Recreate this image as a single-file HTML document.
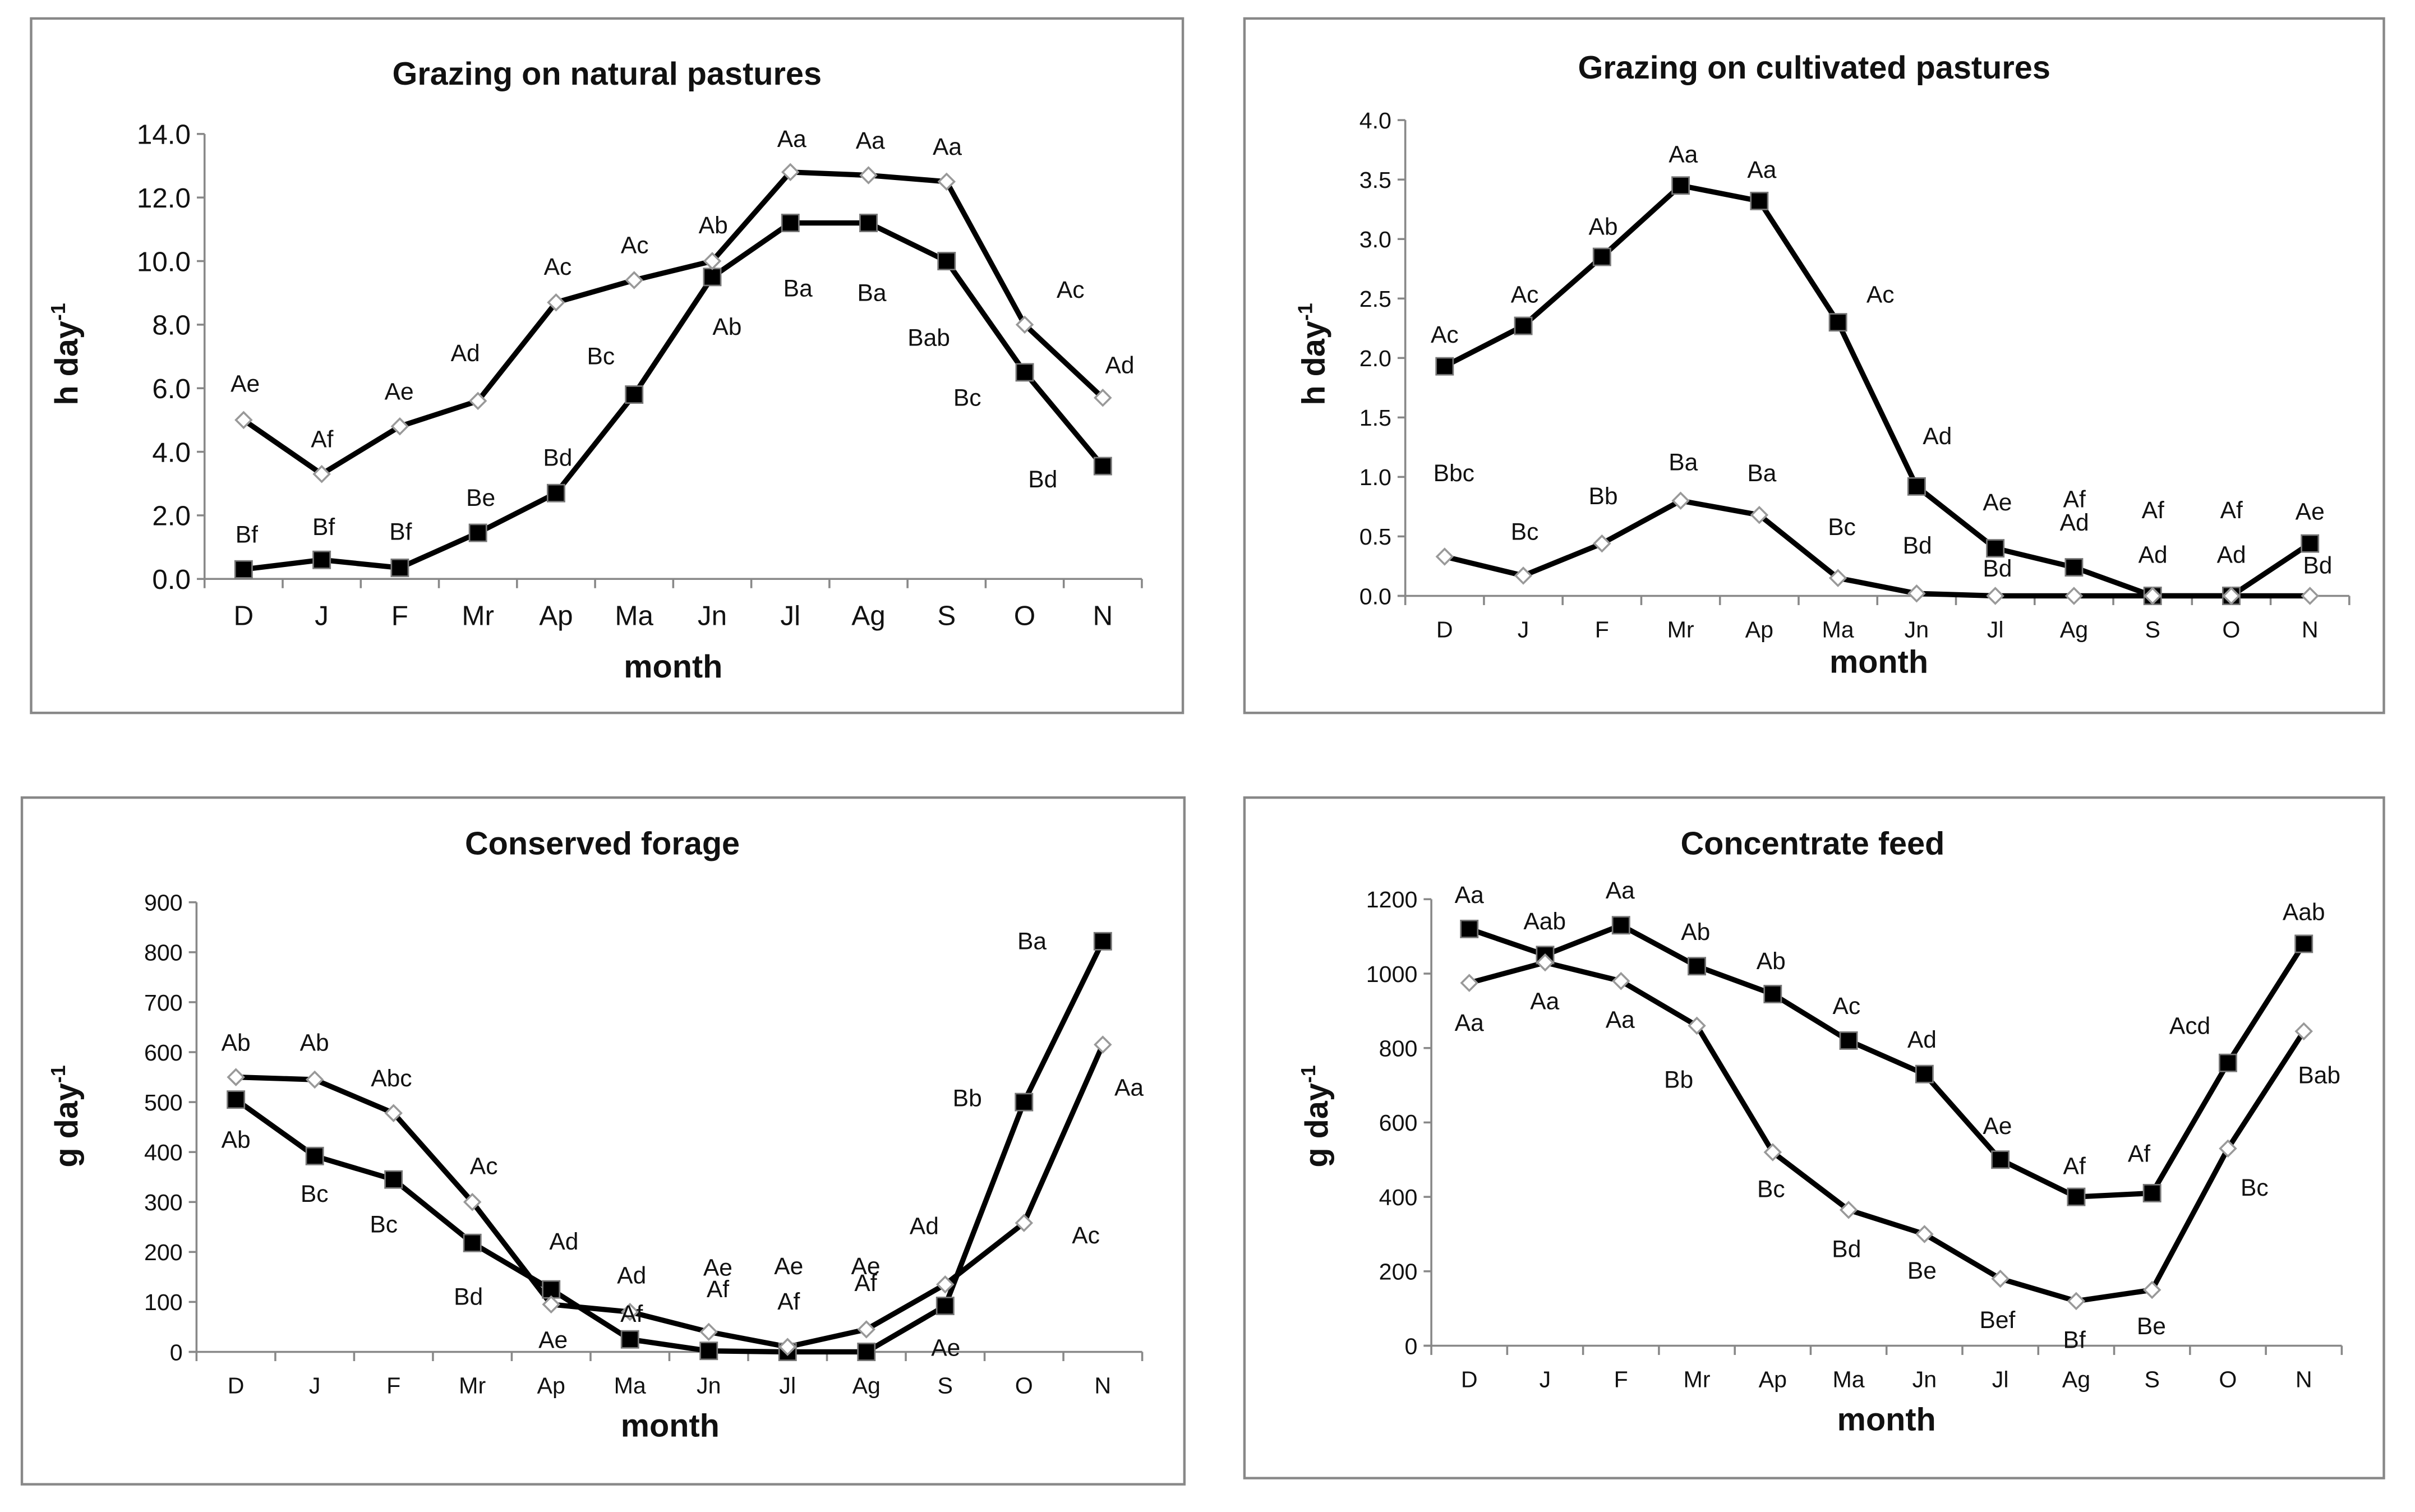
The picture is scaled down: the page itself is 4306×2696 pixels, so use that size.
<!DOCTYPE html>
<html><head><meta charset="utf-8"><style>
html,body{margin:0;padding:0;background:#fff}
svg{display:block}
text{font-family:"Liberation Sans",Arial,sans-serif;fill:#111}
</style></head><body>
<svg id="s" width="4306" height="2696" viewBox="0 0 1568 982" xmlns="http://www.w3.org/2000/svg"></svg>
<script>
const months=["D","J","F","Mr","Ap","Ma","Jn","Jl","Ag","S","O","N"];
const natDiamond=[5.0,3.3,4.8,5.6,8.7,9.4,10.0,12.8,12.7,12.5,8.0,5.7];
const natSquare=[0.3,0.6,0.35,1.45,2.7,5.8,9.5,11.2,11.2,10.0,6.5,3.55];
const natTicks=["0.0","2.0","4.0","6.0","8.0","10.0","12.0","14.0"];
const cultSquare=[1.93,2.27,2.85,3.45,3.32,2.3,0.92,0.4,0.24,0,0,0.44];
const cultDiamond=[0.33,0.17,0.44,0.8,0.68,0.15,0.02,0,0,0,0,0];
const cultTicks=["0.0","0.5","1.0","1.5","2.0","2.5","3.0","3.5","4.0"];
const consDiamond=[550,545,478,300,95,80,40,10,45,135,258,615];
const consSquare=[505,392,345,218,125,25,2,0,0,92,500,822];
const consTicks=["0","100","200","300","400","500","600","700","800","900"];
const concSquare=[1120,1050,1130,1020,945,820,730,500,400,410,760,1080];
const concDiamond=[975,1030,980,860,520,365,300,180,120,150,530,845];
const concTicks=["0","200","400","600","800","1000","1200"];

const NS="http://www.w3.org/2000/svg";
const svg=document.getElementById('s');
function mk(tag,attrs,parent,txt){const e=document.createElementNS(NS,tag);for(const k in attrs)e.setAttribute(k,attrs[k]);if(txt!==undefined)e.textContent=txt;(parent||svg).appendChild(e);return e;}

function chart(cfg){
  const g=mk('g',{});
  
  
  const fr=mk('rect',{x:cfg.box[0],y:cfg.box[1],width:cfg.box[2]-cfg.box[0],height:cfg.box[3]-cfg.box[1],fill:'#fff',stroke:'#888','stroke-width':1.6},g);
  
  const t=mk('text',{x:cfg.title[0],y:cfg.title[1],'text-anchor':'middle','font-size':21,'font-weight':'bold'},g,cfg.titleText);
  
  const tmax=parseFloat(cfg.ticks[cfg.ticks.length-1]);
  const ys=v=>cfg.y0+(cfg.yTop-cfg.y0)*v/tmax;
  const step=(cfg.xN-cfg.xD)/11;
  const xs=i=>cfg.xD+i*step;
  const xl=cfg.xD-step/2, xr=cfg.xN+step/2;
  const ya=mk('line',{x1:xl,y1:cfg.y0,x2:xl,y2:cfg.yTop,stroke:'#888','stroke-width':1.3},g);
  
  const xa=mk('line',{x1:xl-5,y1:cfg.y0,x2:xr,y2:cfg.y0,stroke:'#888','stroke-width':1.3},g);
  
  cfg.ticks.forEach(tk=>{
    const y=ys(parseFloat(tk));
    mk('line',{x1:xl-5,y1:y,x2:xl,y2:y,stroke:'#888','stroke-width':1.3},g);
    const tl=mk('text',{x:xl-9,y:y+cfg.fs*0.36,'text-anchor':'end','font-size':cfg.fs},g,tk);
    
  });
  for(let i=0;i<=12;i++){const x=xl+i*step;mk('line',{x1:x,y1:cfg.y0,x2:x,y2:cfg.y0+6,stroke:'#888','stroke-width':1.3},g);}
  months.forEach((m,i)=>{
    const tl=mk('text',{x:xs(i),y:cfg.y0+cfg.fs+12,'text-anchor':'middle','font-size':cfg.fs},g,m);
    
  });
  const mt=mk('text',{x:cfg.month[0],y:cfg.month[1],'text-anchor':'middle','font-size':21,'font-weight':'bold'},g,'month');
  
  const yt=mk('text',{x:0,y:0,'text-anchor':'middle','font-size':21,'font-weight':'bold',transform:`translate(${cfg.ylab[0]},${cfg.ylab[1]}) rotate(-90)`},g);
  
  yt.appendChild(document.createTextNode(cfg.unit+' day'));
  mk('tspan',{'font-size':13,dy:-8},yt,'-1');
  [[cfg.sq,'square'],[cfg.di,'diamond']].forEach(([vals,kind])=>{
    const pts=vals.map((v,i)=>xs(i)+','+ys(v)).join(' ');
    const pl=mk('polyline',{points:pts,fill:'none',stroke:'#000','stroke-width':3.4,'stroke-linejoin':'round'},g);
    
  });
  cfg.sq.forEach((v,i)=>{
    const r=mk('rect',{x:xs(i)-5.5,y:ys(v)-5.5,width:11,height:11,fill:'#000',stroke:'#777','stroke-width':1},g);
    
  });
  cfg.di.forEach((v,i)=>{
    const x=xs(i),y=ys(v);
    const p=mk('polygon',{points:`${x},${y-5} ${x+5},${y} ${x},${y+5} ${x-5},${y}`,fill:'#fff',stroke:'#999','stroke-width':1.3},g);
    
  });
  cfg.labels.forEach(l=>{
    const tl=mk('text',{x:l[0],y:l[1]+5.5,'text-anchor':'middle','font-size':15.5},g,l[2]);
    
  });
}

chart({name:'chart-natural-pastures',box:[20,12,768,463],title:[394,55],titleText:'Grazing on natural pastures',
 y0:376,yTop:87,xD:158,xN:716,ticks:natTicks,fs:18,month:[437,440],ylab:[50,230],unit:'h',sq:natSquare,di:natDiamond,
 labels:[[159,249,'Ae'],[209,285,'Af'],[259,254,'Ae'],[302,229,'Ad'],[362,173,'Ac'],[412,159,'Ac'],[463,146,'Ab'],[514,90,'Aa'],[565,91,'Aa'],[615,95,'Aa'],[695,188,'Ac'],[727,237,'Ad'],
 [160,347,'Bf'],[210,342,'Bf'],[260,345,'Bf'],[312,323,'Be'],[362,297,'Bd'],[390,231,'Bc'],[472,212,'Ab'],[518,187,'Ba'],[566,190,'Ba'],[603,219,'Bab'],[628,258,'Bc'],[677,311,'Bd']]});

chart({name:'chart-cultivated-pastures',box:[808,12,1548,463],title:[1178,51],titleText:'Grazing on cultivated pastures',
 y0:387,yTop:78,xD:938,xN:1500,ticks:cultTicks,fs:15,month:[1220,437],ylab:[860,230],unit:'h',sq:cultSquare,di:cultDiamond,
 labels:[[938,217,'Ac'],[990,191,'Ac'],[1041,147,'Ab'],[1093,100,'Aa'],[1144,110,'Aa'],[1221,191,'Ac'],[1258,283,'Ad'],[1297,326,'Ae'],[1347,324,'Af'],[1347,339,'Ad'],[1398,331,'Af'],[1449,331,'Af'],[1500,332,'Ae'],
 [944,307,'Bbc'],[990,345,'Bc'],[1041,322,'Bb'],[1093,300,'Ba'],[1144,307,'Ba'],[1196,342,'Bc'],[1245,354,'Bd'],[1297,369,'Bd'],[1398,360,'Ad'],[1449,360,'Ad'],[1505,367,'Bd']]});

chart({name:'chart-conserved-forage',box:[14,518,769,964],title:[391,555],titleText:'Conserved forage',
 y0:878,yTop:586,xD:153,xN:716,ticks:consTicks,fs:15,month:[435,933],ylab:[50,725],unit:'g',sq:consSquare,di:consDiamond,
 labels:[[153,677,'Ab'],[204,677,'Ab'],[254,700,'Abc'],[314,757,'Ac'],[366,806,'Ad'],[410,828,'Ad'],[466,823,'Ae'],[512,822,'Ae'],[562,822,'Ae'],[600,796,'Ad'],[670,611,'Ba'],[733,706,'Aa'],
 [153,740,'Ab'],[204,775,'Bc'],[249,795,'Bc'],[304,842,'Bd'],[359,870,'Ae'],[410,853,'Af'],[466,837,'Af'],[512,845,'Af'],[562,833,'Af'],[614,875,'Ae'],[628,713,'Bb'],[705,802,'Ac']]});

chart({name:'chart-concentrate-feed',box:[808,518,1548,960],title:[1177,555],titleText:'Concentrate feed',
 y0:874,yTop:584,xD:954,xN:1496,ticks:concTicks,fs:15,month:[1225,929],ylab:[862,725],unit:'g',sq:concSquare,di:concDiamond,
 labels:[[954,581,'Aa'],[1003,598,'Aab'],[1052,578,'Aa'],[1101,605,'Ab'],[1150,624,'Ab'],[1199,653,'Ac'],[1248,675,'Ad'],[1297,731,'Ae'],[1347,757,'Af'],[1389,749,'Af'],[1422,666,'Acd'],[1496,592,'Aab'],
 [954,664,'Aa'],[1003,650,'Aa'],[1052,662,'Aa'],[1090,701,'Bb'],[1150,772,'Bc'],[1199,811,'Bd'],[1248,825,'Be'],[1297,857,'Bef'],[1347,870,'Bf'],[1397,861,'Be'],[1464,771,'Bc'],[1506,698,'Bab']]});
</script>
</body></html>
